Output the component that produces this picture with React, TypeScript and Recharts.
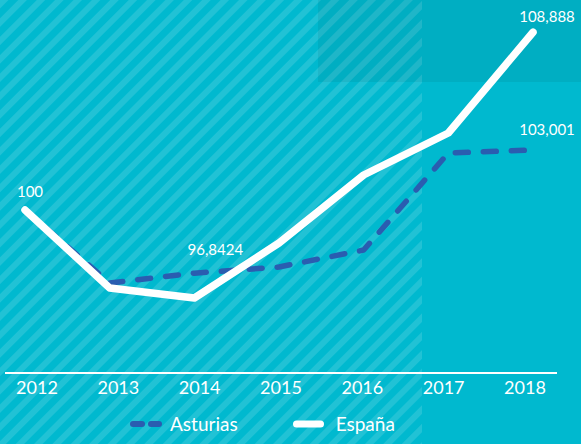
import { LineChart, Line, XAxis, YAxis, Legend, LabelList } from "recharts";

const years = ["2012", "2013", "2014", "2015", "2016", "2017", "2018"];
const asturias = [100, 96.35, 96.8424, 97.15, 98.0, 102.85, 103.001];
const espana = [100, 96.1, 95.6, 98.35, 101.75, 103.85, 108.888];

// which points carry a value label, per series
const asturiasLabels = [2, 6];
const espanaLabels = [0, 6];

const data = years.map((year, i) => ({
  year,
  asturias: asturias[i],
  espana: espana[i],
}));

const BG = "#00b9cf";
const BLUE = "#2a5db0";

// label nudges (style only)
const labelShift: Record<string, { dx: number; dy: number }> = {
  "espana-0": { dx: 5, dy: -13 },
  "espana-6": { dx: 14, dy: -10 },
  "asturias-2": { dx: 21, dy: -18 },
  "asturias-6": { dx: 14, dy: -15 },
};

const makeLabel =
  (series: string, shown: number[]) =>
  (props: any) => {
    const { x, y, index, value } = props;
    if (!shown.includes(index)) return null;
    const s = labelShift[`${series}-${index}`];
    return (
      <text
        x={x + s.dx}
        y={y + s.dy}
        textAnchor="middle"
        fill="#ffffff"
        fontSize={15}
        fontFamily="Lato, sans-serif"
      >
        {String(value).replace(".", ",")}
      </text>
    );
  };

const LegendContent = () => (
  <div
    style={{
      height: 41,
      display: "flex",
      alignItems: "center",
      paddingLeft: 127,
      fontFamily: "Lato, sans-serif",
      fontSize: 19,
      color: "#ffffff",
    }}
  >
    <svg width={36} height={10} style={{ marginRight: 7 }}>
      <line x1={6} y1={5} x2={15} y2={5} stroke={BLUE} strokeWidth={6} strokeLinecap="round" />
      <line x1={24} y1={5} x2={32} y2={5} stroke={BLUE} strokeWidth={6} strokeLinecap="round" />
    </svg>
    <span>Asturias</span>
    <svg width={36} height={10} style={{ marginLeft: 51, marginRight: 11 }}>
      <line x1={7.5} y1={5} x2={31.5} y2={5} stroke="#ffffff" strokeWidth={7} strokeLinecap="round" />
    </svg>
    <span>España</span>
  </div>
);

export default function App() {
  return (
    <div style={{ position: "relative", width: 581, height: 444, background: BG, overflow: "hidden" }}>
      <style>{`body{margin:0}`}</style>
      {/* Background panels */}
      <svg width={581} height={444} style={{ position: "absolute", left: 0, top: 0 }}>
        <defs>
          <pattern
            id="stripes"
            width={13}
            height={13}
            patternUnits="userSpaceOnUse"
            patternTransform="rotate(45)"
          >
            <rect x={0} y={0} width={6} height={13} fill="rgba(255,255,255,0.13)" />
          </pattern>
        </defs>
        <rect x={0} y={0} width={422} height={444} fill="url(#stripes)" />
        <rect x={318} y={0} width={263} height={82} fill="rgba(0,0,0,0.06)" />
      </svg>

      <div style={{ position: "absolute", left: 0, top: 0 }}>
        <LineChart
          width={581}
          height={444}
          data={data}
          margin={{ top: 10, right: 24, left: 5, bottom: 0 }}
        >
          <XAxis
            xAxisId="labels"
            dataKey="year"
            padding={{ left: 32, right: 32 }}
            height={30}
            axisLine={{ stroke: "#ffffff", strokeWidth: 2 }}
            tickLine={false}
            tick={{ fill: "#ffffff", fontSize: 18, fontFamily: "Lato, sans-serif" }}
            interval={0}
          />
          <XAxis xAxisId="line" dataKey="year" hide padding={{ left: 20, right: 24 }} />
          <YAxis hide domain={[91.85, 110]} />
          <Legend
            verticalAlign="bottom"
            content={<LegendContent />}
            wrapperStyle={{ left: 0, width: 581 }}
          />
          <Line
            xAxisId="line"
            dataKey="asturias"
            name="Asturias"
            stroke={BLUE}
            strokeWidth={5.5}
            strokeDasharray="13 15"
            strokeLinecap="round"
            strokeLinejoin="round"
            dot={false}
            activeDot={false}
            isAnimationActive={false}
          >
            <LabelList dataKey="asturias" content={makeLabel("asturias", asturiasLabels)} />
          </Line>
          <Line
            xAxisId="line"
            dataKey="espana"
            name="España"
            stroke="#ffffff"
            strokeWidth={7.5}
            strokeLinecap="round"
            strokeLinejoin="round"
            dot={false}
            activeDot={false}
            isAnimationActive={false}
          >
            <LabelList dataKey="espana" content={makeLabel("espana", espanaLabels)} />
          </Line>
        </LineChart>
      </div>
    </div>
  );
}
